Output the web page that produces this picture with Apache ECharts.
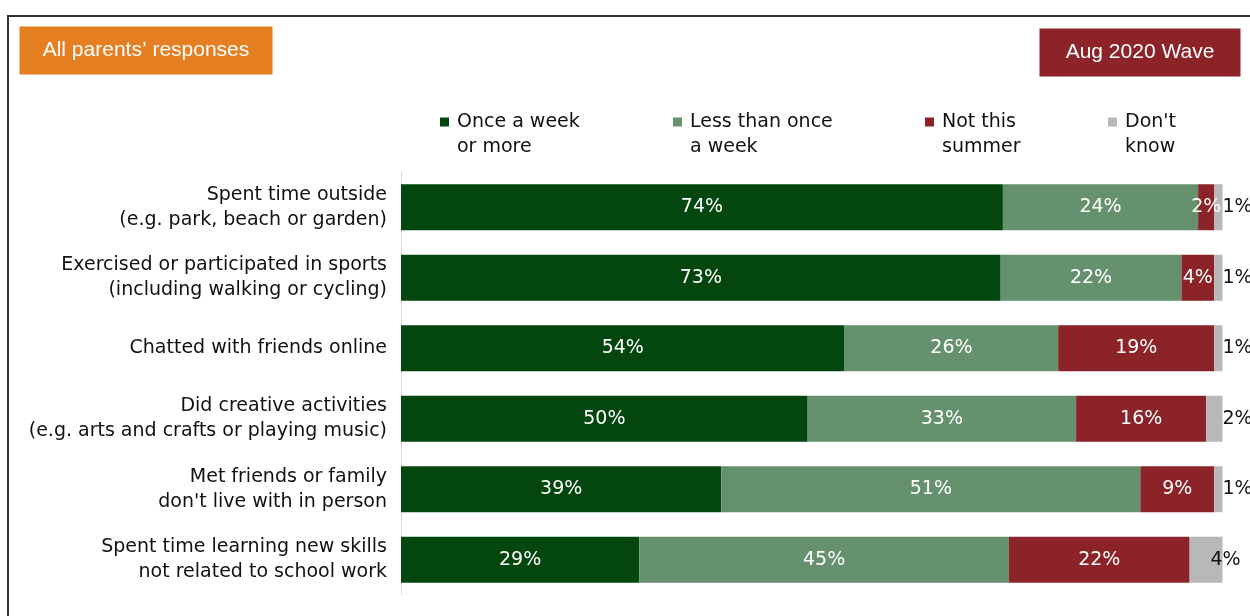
<!DOCTYPE html>
<html>
<head>
<meta charset="utf-8">
<script src="https://cdn.jsdelivr.net/npm/echarts@6/dist/echarts.min.js"></script>
<style>
  html, body { margin: 0; padding: 0; background: #fff; }
  #chart { width: 1250px; height: 616px; }
</style>
</head>
<body>
<div id="chart"></div>
<script>
const categories = [
  "Spent time outside\n(e.g. park, beach or garden)",
  "Exercised or participated in sports\n(including walking or cycling)",
  "Chatted with friends online",
  "Did creative activities\n(e.g. arts and crafts or playing music)",
  "Met friends or family\ndon't live with in person",
  "Spent time learning new skills\nnot related to school work"
];
const seriesNames = ["Once a week\nor more", "Less than once\na week", "Not this\nsummer", "Don't\nknow"];
const onceAWeek = [74, 73, 54, 50, 39, 29];
const lessThanOnce = [24, 22, 26, 33, 51, 45];
const notThisSummer = [2, 4, 19, 16, 9, 22];
const dontKnow = [1, 1, 1, 2, 1, 4];
const headerLeft = "All parents\u2019 responses";
const headerRight = "Aug 2020 Wave";

const allSeries = [onceAWeek, lessThanOnce, notThisSummer, dontKnow];
const totals = categories.map((_, i) => allSeries.reduce((s, arr) => s + arr[i], 0));
const norm = arr => arr.map((v, i) => v / totals[i] * 100);

const colors = ["#03470f", "#66916e", "#8b2329", "#b8b8b8"];
const FONT = "DejaVu Sans";

const chart = echarts.init(document.getElementById('chart'), null, { renderer: 'canvas' });

const legendLefts = [440, 673, 925, 1108];

function makeSeries(idx) {
  const raw = allSeries[idx];
  const isDK = idx === 3;
  return {
    name: seriesNames[idx],
    type: 'bar',
    stack: 'total',
    barWidth: 46,
    itemStyle: { color: colors[idx] },
    label: {
      show: true,
      position: isDK ? 'right' : 'inside',
      distance: 0,
      color: isDK ? '#111' : '#fff',
      fontFamily: FONT,
      fontSize: 19,
      formatter: p => raw[p.dataIndex] + '%'
    },
    data: norm(raw).map((v, i) => {
      if (isDK && raw[i] >= 3) {
        return { value: v, label: { offset: [-12, 0] } };
      }
      return v;
    })
  };
}

const option = {
  backgroundColor: '#fff',
  animation: false,
  color: colors,
  legend: seriesNames.map((n, i) => ({
    data: [{ name: n, icon: 'rect' }],
    left: legendLefts[i],
    top: 84.5,
    padding: 0,
    itemWidth: 9,
    itemHeight: 9,
    itemGap: 0,
    selectedMode: false,
    formatter: name => '\u00a0\n' + name,
    textStyle: {
      fontFamily: FONT,
      fontSize: 19,
      color: '#111',
      lineHeight: 25,
      padding: [0, 0, 0, 3]
    }
  })),
  grid: { left: 401, right: 27.5, top: 172, height: 423, containLabel: false },
  xAxis: {
    type: 'value',
    min: 0,
    max: 100,
    show: false
  },
  yAxis: {
    type: 'category',
    inverse: true,
    data: categories,
    axisLine: { show: true, lineStyle: { color: '#d9d9d9', width: 1 } },
    axisTick: { show: false },
    axisLabel: {
      margin: 14,
      fontFamily: FONT,
      fontSize: 19,
      color: '#111',
      lineHeight: 25,
      align: 'right'
    }
  },
  graphic: [
    {
      type: 'rect',
      shape: { x: 8, y: 16, width: 1400, height: 800 },
      style: { fill: 'none', stroke: '#333', lineWidth: 2 },
      silent: true
    },
    {
      type: 'rect',
      shape: { x: 19.5, y: 26.5, width: 253, height: 48 },
      style: { fill: '#e67f22' }
    },
    {
      type: 'text',
      x: 146, y: 50.5,
      style: {
        text: headerLeft, fill: '#fff', font: '21px "Liberation Sans"',
        textAlign: 'center', textVerticalAlign: 'middle'
      }
    },
    {
      type: 'rect',
      shape: { x: 1039.5, y: 28.5, width: 201, height: 48 },
      style: { fill: '#8b2329' }
    },
    {
      type: 'text',
      x: 1140, y: 52.5,
      style: {
        text: headerRight, fill: '#fff', font: '21px "Liberation Sans"',
        textAlign: 'center', textVerticalAlign: 'middle'
      }
    }
  ],
  series: [0, 1, 2, 3].map(makeSeries)
};

chart.setOption(option);
</script>
</body>
</html>
